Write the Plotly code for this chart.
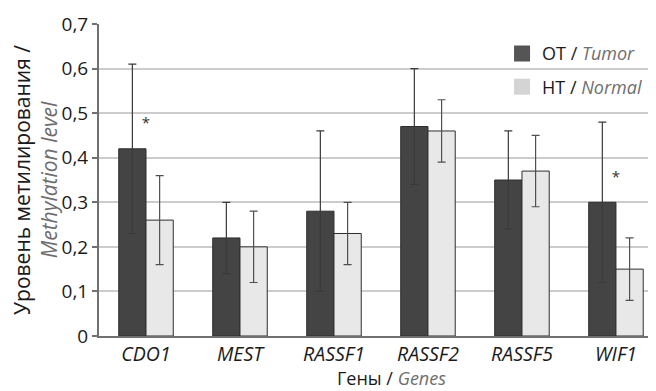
import plotly.graph_objects as go

genes = ["CDO1", "MEST", "RASSF1", "RASSF2", "RASSF5", "WIF1"]
tumor = [0.42, 0.22, 0.28, 0.47, 0.35, 0.30]
tumor_err = [0.19, 0.08, 0.18, 0.13, 0.11, 0.18]
normal = [0.26, 0.20, 0.23, 0.46, 0.37, 0.15]
normal_err = [0.10, 0.08, 0.07, 0.07, 0.08, 0.07]
star_genes = ["CDO1", "WIF1"]
star_y = [0.475, 0.355]
y_ticks = [0, 0.1, 0.2, 0.3, 0.4, 0.5, 0.6, 0.7]
y_tick_text = ["0", "0,1", "0,2", "0,3", "0,4", "0,5", "0,6", "0,7"]

FONT = "Open Sans"
GRAY = "#707070"
TUMOR_C = "#444444"
NORMAL_C = "#e8e8e8"
tumor_name = "ОТ / <span style='color:#6e6e6e'><i>Tumor</i></span>"
normal_name = "НТ / <span style='color:#6e6e6e'><i>Normal</i></span>"

fig = go.Figure()
fig.add_trace(go.Bar(
    x=genes, y=tumor, name=tumor_name, showlegend=False,
    marker=dict(color=TUMOR_C, line=dict(color="#2e2e2e", width=1)),
    error_y=dict(type="data", array=tumor_err, color="#3a3a3a", thickness=1.2, width=4),
))
fig.add_trace(go.Bar(
    x=genes, y=normal, name=normal_name, showlegend=False,
    marker=dict(color=NORMAL_C, line=dict(color="#2e2e2e", width=1)),
    error_y=dict(type="data", array=normal_err, color="#505050", thickness=1.2, width=4),
))
fig.add_trace(go.Scatter(
    x=star_genes, y=star_y, mode="text", text=["*", "*"],
    textfont=dict(size=15, color="#333333", family=FONT),
    showlegend=False, hoverinfo="skip",
))
# legend entries (square symbols)
fig.add_trace(go.Scatter(
    x=[None], y=[None], mode="markers", name=tumor_name, legendgroup="a",
    marker=dict(symbol="square", size=16, color="#555555"),
))
fig.add_trace(go.Scatter(
    x=[None], y=[None], mode="markers", name=normal_name, legendgroup="b",
    marker=dict(symbol="square", size=16, color="#d4d4d4"),
))

fig.update_layout(
    width=656, height=391,
    margin=dict(l=91, r=8, t=16, b=63),
    plot_bgcolor="white", paper_bgcolor="white",
    barmode="group", bargap=0.42, bargroupgap=0,
    font=dict(family=FONT, size=18, color="#1a1a1a"),
    showlegend=True,
    legend=dict(x=0.7236, y=0.964, xanchor="left", yanchor="top",
                font=dict(size=18, family=FONT, color="#1a1a1a"),
                bgcolor="rgba(0,0,0,0)", tracegroupgap=7,
                traceorder="grouped", itemwidth=30),
    annotations=[dict(
        text="Гены / <span style='color:#6e6e6e'><i>Genes</i></span>",
        xref="paper", yref="paper", x=0.526, y=-0.1346,
        xanchor="center", yanchor="middle", showarrow=False,
        font=dict(size=18, family=FONT, color="#1a1a1a"),
    )],
)
fig.update_xaxes(
    range=[-0.5, 5.426], showgrid=False, automargin=False,
    showline=True, linecolor=GRAY, linewidth=2,
    ticks="", tickfont=dict(size=19.5, family=FONT, color="#1a1a1a"),
    tickvals=genes, ticktext=["<i>%s</i>" % g for g in genes],
)
fig.update_yaxes(
    range=[0, 0.7], tickvals=y_ticks, ticktext=y_tick_text, automargin=False,
    showgrid=True, gridcolor="#cccccc", gridwidth=2,
    showline=True, linecolor=GRAY, linewidth=2,
    ticks="outside", ticklen=5, tickcolor=GRAY, tickwidth=2,
    tickfont=dict(size=19, family=FONT, color="#1a1a1a"),
    title=dict(text="Уровень метилирования /<br><span style='color:#6e6e6e'><i>Methylation level</i></span>",
               font=dict(size=21, family=FONT), standoff=14),
    zeroline=False,
)

fig.write_html("out.html")
